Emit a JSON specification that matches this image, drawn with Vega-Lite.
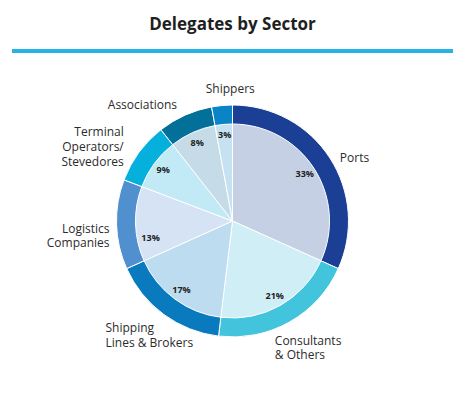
{
  "$schema": "https://vega.github.io/schema/vega-lite/v6.json",
  "width": 441,
  "height": 340,
  "autosize": {"type": "none"},
  "padding": {"left": 12, "top": 51, "right": 22, "bottom": 3},
  "background": "white",
  "title": {"text": "Delegates by Sector", "anchor": "middle", "offset": 3, "fontSize": 17, "font": "Open Sans", "fontWeight": "bold", "color": "#1f1f1f", "baseline": "alphabetic"},
  "config": {"view": {"stroke": null}},
  "data": {"values": [
    {"i": 1, "sector": "Ports", "label": "Ports", "share": 0.33},
    {"i": 2, "sector": "Consultants & Others", "label": "Consultants\n& Others", "share": 0.21},
    {"i": 3, "sector": "Shipping Lines & Brokers", "label": "Shipping\nLines & Brokers", "share": 0.17},
    {"i": 4, "sector": "Logistics Companies", "label": "Logistics\nCompanies", "share": 0.13},
    {"i": 5, "sector": "Terminal Operators/Stevedores", "label": "Terminal\nOperators/\nStevedores", "share": 0.09},
    {"i": 6, "sector": "Associations", "label": "Associations", "share": 0.08},
    {"i": 7, "sector": "Shippers", "label": "Shippers", "share": 0.03}
  ]},
  "resolve": {"scale": {"color": "independent"}},
  "layer": [
    {
      "mark": {"type": "rule", "color": "#29b2e6", "strokeWidth": 3},
      "encoding": {"y": {"datum": 1, "type": "quantitative", "scale": {"domain": [0, 1]}, "axis": null}}
    },
    {
      "mark": {"type": "arc", "radius": 116, "stroke": "white", "strokeWidth": 1},
      "encoding": {
        "theta": {"field": "share", "type": "quantitative", "stack": true},
        "order": {"field": "i", "type": "quantitative"},
        "color": {"field": "sector", "type": "nominal", "legend": null,
          "scale": {"domain": ["Ports", "Consultants & Others", "Shipping Lines & Brokers", "Logistics Companies", "Terminal Operators/Stevedores", "Associations", "Shippers"],
                    "range": ["#1c3f96", "#43c4dd", "#0a7abf", "#5090cf", "#06b0dc", "#03709a", "#0b84c7"]}}
      }
    },
    {
      "mark": {"type": "arc", "radius": 97, "stroke": "white", "strokeWidth": 1},
      "encoding": {
        "theta": {"field": "share", "type": "quantitative", "stack": true},
        "order": {"field": "i", "type": "quantitative"},
        "color": {"field": "sector", "type": "nominal", "legend": null,
          "scale": {"domain": ["Ports", "Consultants & Others", "Shipping Lines & Brokers", "Logistics Companies", "Terminal Operators/Stevedores", "Associations", "Shippers"],
                    "range": ["#c6d0e4", "#d0eef6", "#bddcef", "#d5e3f4", "#c2e9f6", "#c5dce8", "#c6e2f2"]}}
      }
    },
    {
      "mark": {"type": "text", "radius": 86, "font": "Open Sans", "fontWeight": "bold", "fontSize": 9, "color": "#222222"},
      "encoding": {
        "theta": {"field": "share", "type": "quantitative", "stack": true},
        "order": {"field": "i", "type": "quantitative"},
        "text": {"condition": {"test": "datum.sector !== 'Logistics Companies'", "field": "share", "format": ".0%"}, "value": ""}
      }
    },
    {
      "mark": {"type": "text", "radius": 86, "dx": 4, "dy": 14, "font": "Open Sans", "fontWeight": "bold", "fontSize": 9, "color": "#222222"},
      "encoding": {
        "theta": {"field": "share", "type": "quantitative", "stack": true},
        "order": {"field": "i", "type": "quantitative"},
        "text": {"condition": {"test": "datum.sector === 'Logistics Companies'", "field": "share", "format": ".0%"}, "value": ""}
      }
    },
    {
      "mark": {"type": "text", "radius": 135, "align": "left", "dx": -6, "dy": 10, "font": "Open Sans", "fontSize": 12, "color": "#2b2b2b", "lineBreak": "\n", "lineHeight": 15},
      "encoding": {
        "theta": {"field": "share", "type": "quantitative", "stack": true},
        "order": {"field": "i", "type": "quantitative"},
        "text": {"condition": {"test": "datum.sector === 'Ports'", "field": "label"}, "value": ""}
      }
    },
    {
      "mark": {"type": "text", "radius": 135, "align": "left", "dx": -24, "dy": 2, "font": "Open Sans", "fontSize": 12, "color": "#2b2b2b", "lineBreak": "\n", "lineHeight": 14},
      "encoding": {
        "theta": {"field": "share", "type": "quantitative", "stack": true},
        "order": {"field": "i", "type": "quantitative"},
        "text": {"condition": {"test": "datum.sector === 'Consultants & Others'", "field": "label"}, "value": ""}
      }
    },
    {
      "mark": {"type": "text", "radius": 135, "align": "left", "dx": -47, "dy": -2, "font": "Open Sans", "fontSize": 12, "color": "#2b2b2b", "lineBreak": "\n", "lineHeight": 15},
      "encoding": {
        "theta": {"field": "share", "type": "quantitative", "stack": true},
        "order": {"field": "i", "type": "quantitative"},
        "text": {"condition": {"test": "datum.sector === 'Shipping Lines & Brokers'", "field": "label"}, "value": ""}
      }
    },
    {
      "mark": {"type": "text", "radius": 135, "align": "right", "dx": 12, "dy": 4, "font": "Open Sans", "fontSize": 12, "color": "#2b2b2b", "lineBreak": "\n", "lineHeight": 14},
      "encoding": {
        "theta": {"field": "share", "type": "quantitative", "stack": true},
        "order": {"field": "i", "type": "quantitative"},
        "text": {"condition": {"test": "datum.sector === 'Logistics Companies'", "field": "label"}, "value": ""}
      }
    },
    {
      "mark": {"type": "text", "radius": 135, "align": "right", "dx": 0, "dy": -9, "font": "Open Sans", "fontSize": 12, "color": "#2b2b2b", "lineBreak": "\n", "lineHeight": 15},
      "encoding": {
        "theta": {"field": "share", "type": "quantitative", "stack": true},
        "order": {"field": "i", "type": "quantitative"},
        "text": {"condition": {"test": "datum.sector === 'Terminal Operators/Stevedores'", "field": "label"}, "value": ""}
      }
    },
    {
      "mark": {"type": "text", "radius": 135, "align": "right", "dx": 0, "dy": 7, "font": "Open Sans", "fontSize": 12, "color": "#2b2b2b", "lineBreak": "\n", "lineHeight": 15},
      "encoding": {
        "theta": {"field": "share", "type": "quantitative", "stack": true},
        "order": {"field": "i", "type": "quantitative"},
        "text": {"condition": {"test": "datum.sector === 'Associations'", "field": "label"}, "value": ""}
      }
    },
    {
      "mark": {"type": "text", "radius": 135, "align": "center", "dx": 10, "dy": 2, "font": "Open Sans", "fontSize": 12, "color": "#2b2b2b", "lineBreak": "\n", "lineHeight": 15},
      "encoding": {
        "theta": {"field": "share", "type": "quantitative", "stack": true},
        "order": {"field": "i", "type": "quantitative"},
        "text": {"condition": {"test": "datum.sector === 'Shippers'", "field": "label"}, "value": ""}
      }
    }
  ]
}
